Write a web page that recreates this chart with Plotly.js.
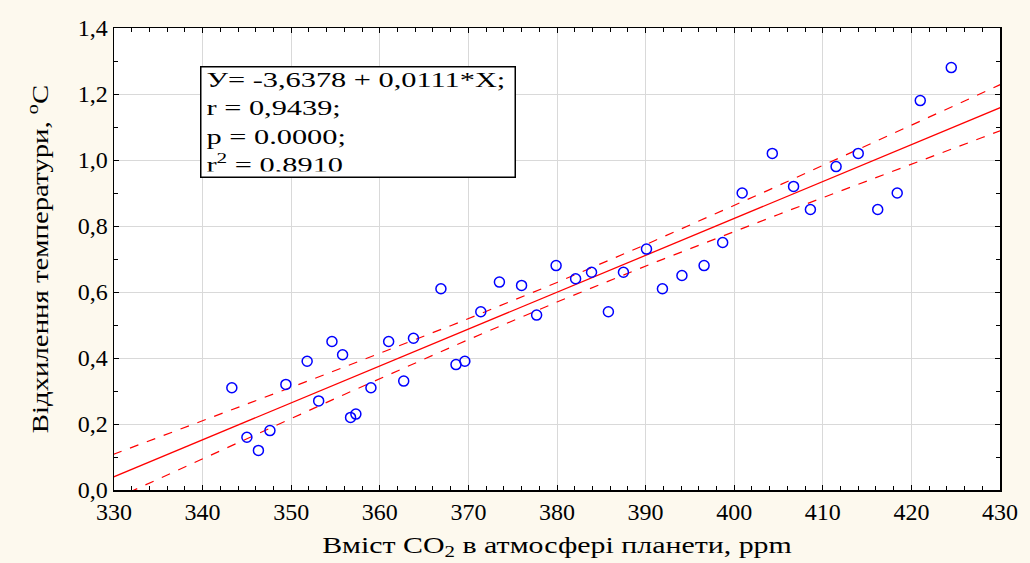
<!DOCTYPE html>
<html>
<head>
<meta charset="utf-8">
<script src="https://cdn.plot.ly/plotly-3.0.1.min.js"></script>
<style>
html,body{margin:0;padding:0;background:#fdf9ee;}
#chart{width:1030px;height:563px;}
</style>
</head>
<body>
<div id="chart"></div>
<script>
// CO2 content (ppm)
const co2 = [343.3,345.0,346.3,347.6,349.4,351.8,353.1,354.6,355.8,356.7,357.3,359.0,361.0,362.7,363.8,366.9,368.6,369.6,371.4,373.5,376.0,377.7,379.9,382.1,383.9,385.8,387.5,390.1,391.9,394.1,396.6,398.7,400.9,404.3,406.7,408.6,411.5,414.0,416.2,418.4,421.0,424.5];
// Temperature anomaly (°C)
const temp = [0.31,0.16,0.12,0.18,0.32,0.39,0.27,0.45,0.41,0.22,0.23,0.31,0.45,0.33,0.46,0.61,0.38,0.39,0.54,0.63,0.62,0.53,0.68,0.64,0.66,0.54,0.66,0.73,0.61,0.65,0.68,0.75,0.90,1.02,0.92,0.85,0.98,1.02,0.85,0.90,1.18,1.28];

const xTicks = [330,340,350,360,370,380,390,400,410,420,430];
const yTicks = [0,0.2,0.4,0.6,0.8,1.0,1.2,1.4];
const yTickText = ['0,0','0,2','0,4','0,6','0,8','1,0','1,2','1,4'];
const statsLines = ['У= -3,6378 + 0,0111*X;','r = 0,9439;','p = 0.0000;','r<sup>2</sup> = 0,8910'];

// least-squares fit and 95% confidence band computed from the data
const n = co2.length;
const xbar = co2.reduce((s,v)=>s+v,0)/n;
const ybar = temp.reduce((s,v)=>s+v,0)/n;
let sxx=0, sxy=0;
for(let i=0;i<n;i++){sxx+=(co2[i]-xbar)**2; sxy+=(co2[i]-xbar)*(temp[i]-ybar);}
const b = sxy/sxx, a = ybar-b*xbar;
let sse=0;
for(let i=0;i<n;i++){sse+=(temp[i]-(a+b*co2[i]))**2;}
const s = Math.sqrt(sse/(n-2));
const tcrit = 2.021;
const fx=[], fy=[], up=[], lo=[];
for(let x=328;x<=432;x+=1){
  const yh=a+b*x;
  const h=tcrit*s*Math.sqrt(1/n+(x-xbar)**2/sxx);
  fx.push(x); fy.push(yh); up.push(yh+h); lo.push(yh-h);
}

const traces = [
  {x:fx,y:up,mode:'lines',line:{color:'#ff0000',width:1.2,dash:'dash'},hoverinfo:'skip'},
  {x:fx,y:lo,mode:'lines',line:{color:'#ff0000',width:1.2,dash:'dash'},hoverinfo:'skip'},
  {x:fx,y:fy,mode:'lines',line:{color:'#ff0000',width:1.3},hoverinfo:'skip'},
  {x:co2,y:temp,mode:'markers',marker:{symbol:'circle-open',size:10,color:'#0000ff',line:{width:1.5,color:'#0000ff'}}}
];

const font = {family:'"Liberation Serif", "Times New Roman", serif', color:'#000'};

const layout = {
  width:1030,height:563,
  paper_bgcolor:'#fdf9ee',plot_bgcolor:'#ffffff',
  showlegend:false,
  separators:', ',
  margin:{l:114,r:30,t:28,b:73},
  font:font,
  xaxis:{
    range:[330,430],tickvals:xTicks,ticktext:xTicks.map(String),
    showgrid:true,gridcolor:'#d9d9d9',gridwidth:1,zeroline:false,
    showline:true,linecolor:'#000',linewidth:1.5,mirror:'ticks',
    ticks:'inside',ticklen:5,tickcolor:'#000',
    minor:{dtick:2,ticks:'inside',ticklen:4,tickcolor:'#000',showgrid:false},
    tickfont:{...font,size:24},
    title:{text:'Вміст CO<sub>2</sub> в атмосфері планети, ppm',font:{...font,size:23},standoff:12}
  },
  yaxis:{
    range:[0,1.4],tickvals:yTicks,ticktext:yTickText,
    showgrid:true,gridcolor:'#d9d9d9',gridwidth:1,zeroline:false,
    showline:true,linecolor:'#000',linewidth:1.5,mirror:'ticks',
    ticks:'inside',ticklen:5,tickcolor:'#000',
    minor:{dtick:0.1,ticks:'inside',ticklen:4,tickcolor:'#000',showgrid:false},
    tickfont:{...font,size:24},
    title:{text:'Відхилення температури, <sup>o</sup>C',font:{...font,size:24},standoff:22}
  },
  annotations:[{
    xref:'paper',yref:'paper',x:0.097,y:0.918,xanchor:'left',yanchor:'top',
    text:statsLines.join('<br>'),align:'left',showarrow:false,
    font:{...font,size:22},
    bgcolor:'#ffffff',bordercolor:'#000',borderwidth:1.5,borderpad:5,
    width:303,height:99
  }]
};

function stretch(el, sx, anchor){
  if(!el) return;
  const bb = el.getBBox();
  const cx = anchor==='left' ? bb.x : bb.x + bb.width/2;
  const prev = el.getAttribute('transform') || '';
  el.setAttribute('transform', (prev+' ').trim()+' matrix('+sx+',0,0,1,'+(cx*(1-sx))+',0)');
}

Plotly.newPlot('chart',traces,layout,{displayModeBar:false,staticPlot:true}).then(function(gd){
  stretch(gd.querySelector('.annotation-text-g text'), 1.38, 'left');
  stretch(gd.querySelector('.xtitle'), 1.3, 'center');
  stretch(gd.querySelector('.ytitle'), 1.2, 'center');
});
</script>
</body>
</html>
